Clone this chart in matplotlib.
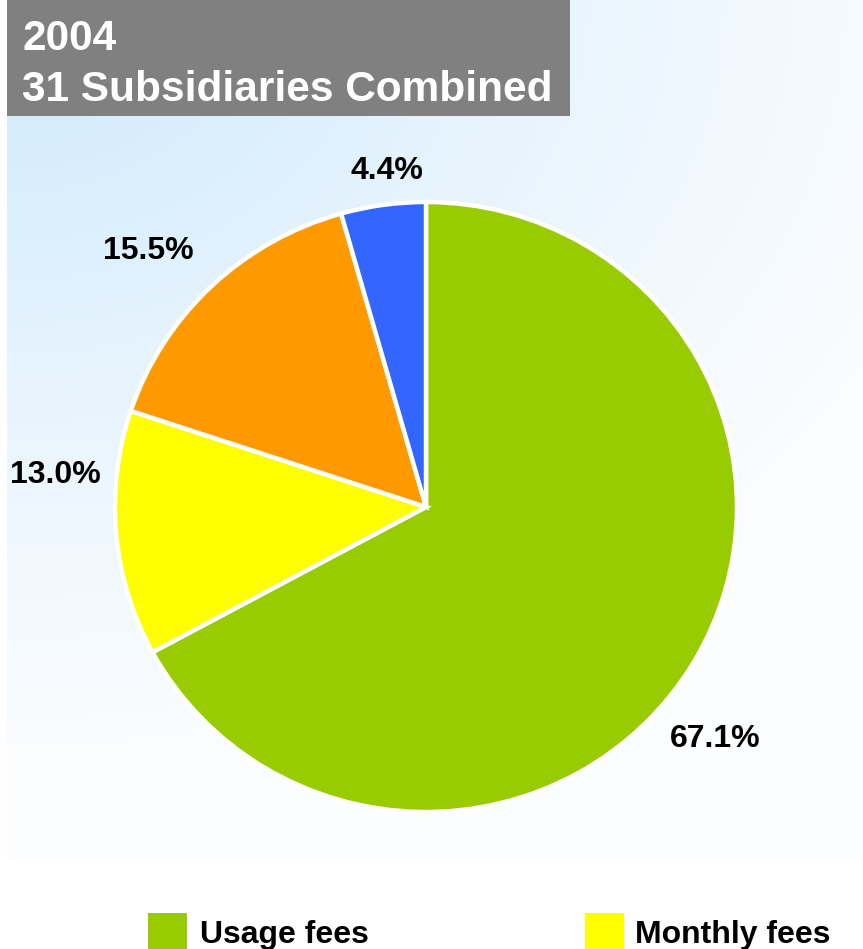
import numpy as np
import matplotlib
matplotlib.use("Agg")
import matplotlib.pyplot as plt
from matplotlib.patches import Rectangle

# Revenue mix, 31 subsidiaries combined, 2004
categories = ["Usage fees", "Monthly fees", "Other A", "Other B"]
shares = [67.1, 13.0, 15.5, 4.4]
colors = ["#99cc00", "#ffff00", "#ff9900", "#3366ff"]
legend_labels = ["Usage fees", "Monthly fees"]
title_lines = ["2004", "31 Subsidiaries Combined"]

W, H = 863, 949
DPI = 100
FONT = "Liberation Sans"

fig = plt.figure(figsize=(W / DPI, H / DPI), dpi=DPI)
fig.patch.set_facecolor("white")

# Background axes in pixel coordinates (y grows downward)
bg = fig.add_axes([0, 0, 1, 1])
bg.set_xlim(0, W)
bg.set_ylim(H, 0)
bg.axis("off")

# Soft blue-to-white gradient panel
bg.add_patch(Rectangle((7, 0), W - 7, 860, facecolor="#fcfdff", edgecolor="none", zorder=0))
xs = np.arange(7, W)
ys = np.arange(0, 748)
X, Y = np.meshgrid(xs, ys)
w = np.clip(1.0 - np.sqrt(((X - 7) / 1050.0) ** 2 + (Y / 800.0) ** 2), 0, 1) ** 1.2
blue = np.array([205, 233, 252]) / 255.0
base = np.array([252, 253, 255]) / 255.0
img = (1 - w[..., None]) * base + w[..., None] * blue
bg.imshow(img, extent=(7, W, 748, 0), aspect="auto", interpolation="bilinear", zorder=1)

# Title box
bg.add_patch(Rectangle((7, 0), 563, 116, facecolor="#808080", edgecolor="none", zorder=2))
bg.text(22, 50, title_lines[0], color="white", fontsize=30.5, fontweight="bold",
        family=FONT, va="baseline", ha="left", zorder=3)
bg.text(22, 101, title_lines[1], color="white", fontsize=30.5, fontweight="bold",
        family=FONT, va="baseline", ha="left", zorder=3)

# Pie axes placed over the pixel box of the (slightly elliptical) pie
cx, cy, rx, ry = 426, 507, 311, 305
pie_ax = fig.add_axes([(cx - rx) / W, (H - cy - ry) / H, 2 * rx / W, 2 * ry / H])
pie_ax.pie(shares, colors=colors, startangle=90, counterclock=False, radius=1,
           wedgeprops=dict(edgecolor="white", linewidth=3.2))
pie_ax.set_aspect("auto")
pie_ax.set_xlim(-1, 1)
pie_ax.set_ylim(-1, 1)
pie_ax.axis("off")

# Percentage labels (left edge, baseline in pixels)
label_pos = [(670, 747), (10, 483), (103, 259), (350, 179)]
for val, (lx, ly) in zip(shares, label_pos):
    bg.text(lx, ly, f"{val:.1f}%", fontsize=23, fontweight="bold", family=FONT,
            color="black", va="baseline", ha="left", zorder=5)

# Legend entries along the bottom edge
legend_pos = [(148, 200), (585, 635)]
for (sx, tx), lab, col in zip(legend_pos, legend_labels, colors[:2]):
    bg.add_patch(Rectangle((sx, 913), 39, 40, facecolor=col, edgecolor="none", zorder=4))
    bg.text(tx, 943, lab, fontsize=23, fontweight="bold", family=FONT,
            color="black", va="baseline", ha="left", zorder=5)

fig.savefig("out.png", dpi=DPI)
